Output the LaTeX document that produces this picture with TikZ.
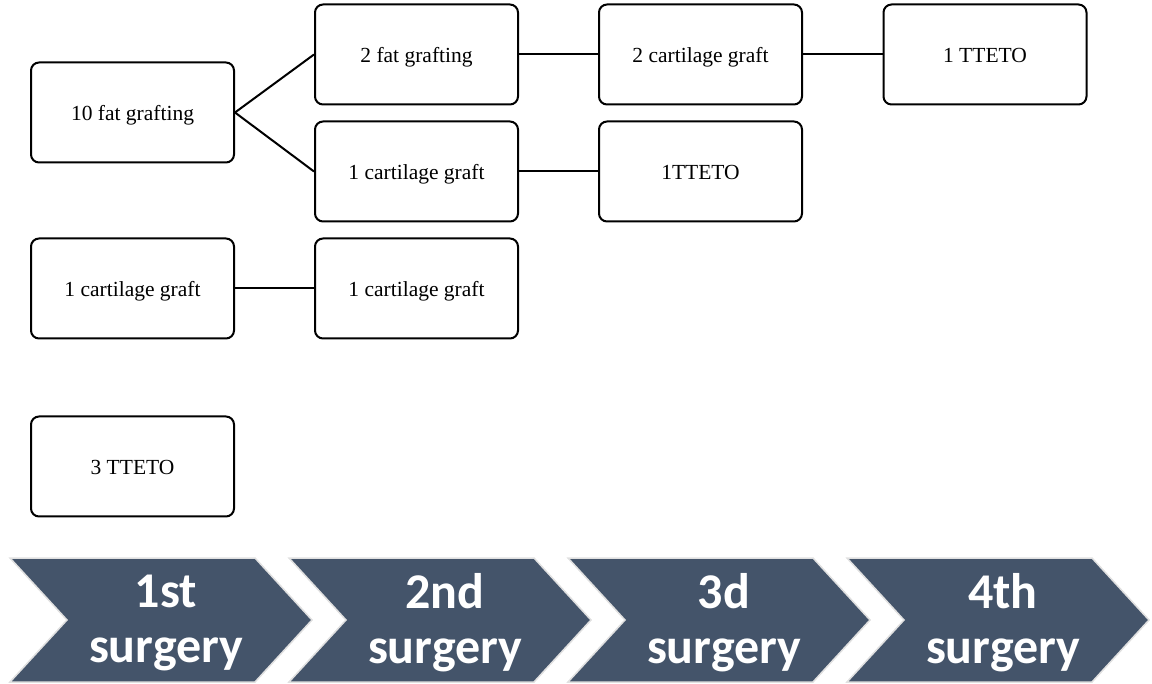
\documentclass[tikz,border=0pt]{standalone}
\usepackage{fontspec}
\setmainfont{Liberation Serif}
\newfontfamily\chevfont{Carlito}
\begin{document}
\begin{tikzpicture}[x=1pt,y=-1pt,
  box/.style={draw=black,line width=2pt,rounded corners=8pt,fill=white,
    minimum width=203pt,minimum height=100pt,inner sep=0pt,text height=16pt,text depth=0pt,
    font=\fontsize{21.5}{25}\selectfont},
  link/.style={draw=black,line width=2pt},
  chev/.style={fill=chevcol,draw=black!12,line width=1.5pt},
  chevtext/.style={text=white,font=\chevfont\bfseries\fontsize{50}{55}\selectfont,align=center}]
\definecolor{chevcol}{HTML}{44546A}
\useasboundingbox (0,0) rectangle (1152,684);
% boxes
\node[box] (a1) at (132.5,112.5) {10 fat grafting};
\node[box] (b1) at (416.5,54.5) {2 fat grafting};
\node[box] (b2) at (416.5,171.5) {1 cartilage graft};
\node[box] (c1) at (700.5,54.5) {2 cartilage graft};
\node[box] (c2) at (700.5,171.5) {1TTETO};
\node[box] (d1) at (985,54.5) {1 TTETO};
\node[box] (a3) at (132.5,288.5) {1 cartilage graft};
\node[box] (b3) at (416.5,288.5) {1 cartilage graft};
\node[box] (a4) at (132.5,466.5) {3 TTETO};
% connectors
\draw[link] (a1.east) -- (b1.west);
\draw[link] (a1.east) -- (b2.west);
\draw[link] (b1) -- (c1);
\draw[link] (c1) -- (d1);
\draw[link] (b2) -- (c2);
\draw[link] (a3) -- (b3);
% chevrons
\foreach \i/\lab in {0/{1st\\surgery},1/{2nd\\surgery},2/{3d\\surgery},3/{4th\\surgery}}{
  \pgfmathsetmacro{\xo}{10+279*\i}
  \draw[chev] (\xo,558) -- (\xo+245,558) -- (\xo+302,620) -- (\xo+245,682) -- (\xo,682) -- (\xo+57,620) -- cycle;
  \node[chevtext] (t\i) at (\xo+156,623) {\lab};
}
\end{tikzpicture}
\end{document}
